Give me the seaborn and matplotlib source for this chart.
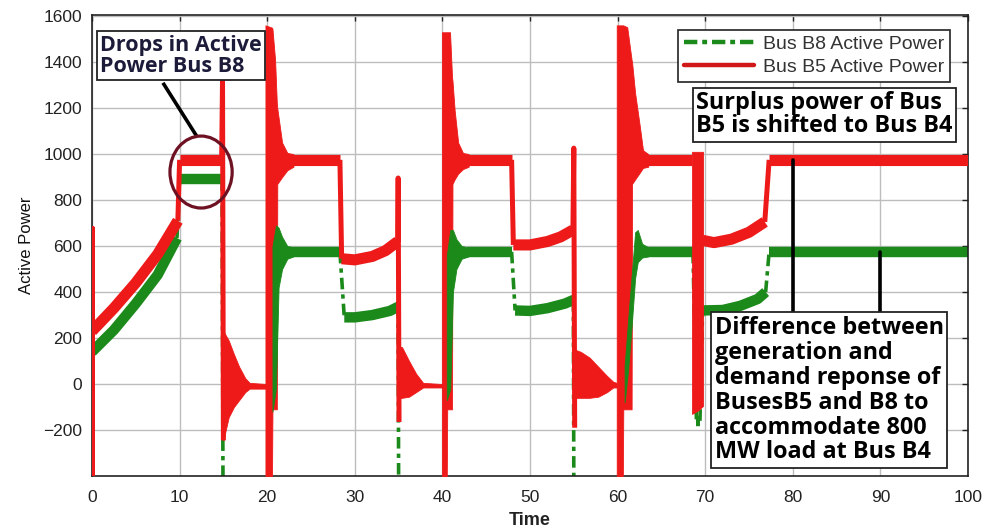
import numpy as np
import pandas as pd
import matplotlib
matplotlib.use("Agg")
import matplotlib.pyplot as plt
from matplotlib.patches import Ellipse
from matplotlib.lines import Line2D
import seaborn as sns

nan = np.nan

# ---- Bus B5 active power: settled trace (NaN separates pieces) ----
b5_t = [0, 0, 0, 2.5, 5, 7.5, 9.8, 10.0, 14.8, 14.9, 15.0, nan,
        22.5, 28.3, 28.5, 30, 32, 33.5, 34.9, 34.95, 35.05, nan,
        42.5, 47.9, 48.1, 50, 52, 53.5, 54.9, 55.0, 55.1, nan,
        63.0, 68.5, nan,
        69.7, 71, 73, 75, 76.8, 77.3, 100]
b5_p = [-400, 680, 230, 330, 440, 565, 710, 975, 975, 1320, -245, nan,
        975, 975, 545, 540, 555, 580, 620, 896, -165, nan,
        975, 975, 605, 605, 620, 640, 670, 1026, -190, nan,
        975, 975, nan,
        625, 615, 630, 660, 705, 975, 975]

# ---- Bus B8 active power: settled trace ----
b8_t = [0, 2.5, 5, 7.5, 9.7, 10.0, 14.8, 14.85, 14.95, nan,
        22.5, 28.3, 28.8, 30, 32, 34, 34.9, 34.95, 35.0, nan,
        42.8, 47.9, 48.3, 50, 52, 54, 54.9, 54.95, 55.0, nan,
        63.2, 68.6, 69.0, 69.4, 69.7, 72, 74, 76, 76.9, 77.3, 100]
b8_p = [140, 235, 350, 475, 635, 890, 890, 890, -400, nan,
        575, 575, 290, 290, 300, 318, 335, 335, -400, nan,
        575, 575, 320, 318, 330, 350, 365, 365, -400, nan,
        575, 575, -160, -160, 320, 322, 340, 370, 400, 575, 575]

# ---- B5 oscillation envelopes after each switching event ----
b5_ev15_t = [15.0, 15.6, 16.2, 16.8, 17.5, 18.0, 20.0]
b5_ev15_hi = [230, 190, 130, 75, 25, 5, 0]
b5_ev15_lo = [-245, -145, -100, -70, -35, -20, -20]

b5_ev20_t = [19.8, 20.55, 20.6, 20.9, 21.1, 21.15, 21.7, 22.3, 23.0]
b5_ev20_hi = [1560, 1550, 1545, 1410, 1220, 1200, 1050, 1005, 1000]
b5_ev20_lo = [-400, -400, -110, -110, -110, 870, 900, 930, 945]

b5_ev35_t = [35.0, 35.4, 36.2, 37.0, 37.8, 40.0]
b5_ev35_hi = [165, 160, 100, 45, 5, 0]
b5_ev35_lo = [-60, -60, -55, -35, -15, -15]

b5_ev40_t = [39.95, 40.5, 40.55, 40.87, 41.1, 41.15, 41.4, 41.8, 42.35, 43.0]
b5_ev40_hi = [1530, 1530, 1530, 1530, 1335, 1320, 1190, 1050, 1005, 1000]
b5_ev40_lo = [-400, -400, -110, -110, -110, 870, 890, 915, 935, 945]

b5_ev55_t = [55.1, 55.8, 56.8, 57.8, 58.8, 59.5, 59.9]
b5_ev55_hi = [150, 140, 115, 75, 35, 10, 5]
b5_ev55_lo = [-60, -60, -60, -55, -35, -15, -15]

b5_ev60_t = [59.9, 60.6, 60.65, 61.1, 61.6, 61.65, 62.0, 62.55, 62.9, 63.5]
b5_ev60_hi = [1560, 1560, 1560, 1552, 1409, 1400, 1265, 1117, 1017, 1000]
b5_ev60_lo = [-400, -400, -110, -110, -110, 870, 890, 920, 940, 945]

b5_ev69_t = [68.5, 69.2, 69.75]
b5_ev69_hi = [1010, 1010, 1010]
b5_ev69_lo = [-130, -115, -95]

# ---- B8 oscillation envelopes ----
b8_ev20_t = [20.6, 21.0, 21.3, 21.7, 22.3, 23.0]
b8_ev20_hi = [600, 690, 680, 640, 600, 595]
b8_ev20_lo = [-120, -20, 420, 500, 545, 555]

b8_ev40_t = [40.5, 40.9, 41.2, 41.6, 42.2, 43.0]
b8_ev40_hi = [560, 670, 670, 630, 600, 595]
b8_ev40_lo = [-70, -20, 400, 500, 545, 555]

b8_ev60_t = [60.8, 61.2, 61.6, 62.0, 62.3, 62.8, 63.5]
b8_ev60_hi = [80, 280, 470, 660, 670, 610, 595]
b8_ev60_lo = [-80, 60, 250, 460, 530, 550, 555]

x_ticks = [0, 10, 20, 30, 40, 50, 60, 70, 80, 90, 100]
y_ticks = [-200, 0, 200, 400, 600, 800, 1000, 1200, 1400, 1600]

RED = "#ee1a1a"
GREEN = "#1b8a1b"


def split_runs(t, p, steep=200.0):
    """Split a NaN-separated trace into runs of 'band' (settled) and 'jump'
    (switching transition) segments."""
    rows = []
    run = 0
    t = np.asarray(t, float)
    p = np.asarray(p, float)
    prev_kind = None
    for i in range(len(t) - 1):
        if np.isnan(t[i]) or np.isnan(t[i + 1]):
            prev_kind = None
            run += 1
            continue
        dt = t[i + 1] - t[i]
        dp = p[i + 1] - p[i]
        kind = "jump" if (dt == 0 or abs(dp / dt) > steep) else "band"
        if kind != prev_kind:
            run += 1
            rows.append((run, kind, t[i], p[i]))
        rows.append((run, kind, t[i + 1], p[i + 1]))
        prev_kind = kind
    return pd.DataFrame(rows, columns=["run", "kind", "t", "p"])


sns.set_theme(style="whitegrid")
plt.rcParams["font.family"] = ["Liberation Sans", "DejaVu Sans"]

fig = plt.figure(figsize=(9.89, 5.32), dpi=100)
ax = fig.add_axes([92 / 989, 1 - 476 / 532, 876 / 989, 461 / 532])
ax.set_facecolor("white")

b8 = split_runs(b8_t, b8_p)
b5 = split_runs(b5_t, b5_p)

# Bus B8 (green): settled bands solid and thick, transitions dash-dot
sns.lineplot(data=b8[b8.kind == "band"], x="t", y="p", units="run",
             estimator=None, sort=False, color=GREEN, linewidth=7.5,
             solid_capstyle="butt", legend=False, ax=ax, zorder=2)
sns.lineplot(data=b8[b8.kind == "jump"], x="t", y="p", units="run",
             estimator=None, sort=False, color=GREEN, linewidth=2.6,
             linestyle=(0, (3.2, 1.4, 1.2, 1.4)), legend=False, ax=ax,
             zorder=2)

# Bus B5 (red)
sns.lineplot(data=b5[b5.kind == "band"], x="t", y="p", units="run",
             estimator=None, sort=False, color=RED, linewidth=8,
             solid_capstyle="butt", legend=False, ax=ax, zorder=3)
sns.lineplot(data=b5[b5.kind == "jump"], x="t", y="p", units="run",
             estimator=None, sort=False, color=RED, linewidth=3.6,
             solid_capstyle="butt", legend=False, ax=ax, zorder=3)

for et, hi, lo in [(b5_ev15_t, b5_ev15_hi, b5_ev15_lo),
                   (b5_ev20_t, b5_ev20_hi, b5_ev20_lo),
                   (b5_ev35_t, b5_ev35_hi, b5_ev35_lo),
                   (b5_ev40_t, b5_ev40_hi, b5_ev40_lo),
                   (b5_ev55_t, b5_ev55_hi, b5_ev55_lo),
                   (b5_ev60_t, b5_ev60_hi, b5_ev60_lo),
                   (b5_ev69_t, b5_ev69_hi, b5_ev69_lo)]:
    ax.fill_between(et, lo, hi, color=RED, linewidth=0.6, edgecolor=RED,
                    zorder=3)

for et, hi, lo in [(b8_ev20_t, b8_ev20_hi, b8_ev20_lo),
                   (b8_ev40_t, b8_ev40_hi, b8_ev40_lo),
                   (b8_ev60_t, b8_ev60_hi, b8_ev60_lo)]:
    ax.fill_between(et, lo, hi, color=GREEN, linewidth=0.6,
                    edgecolor=GREEN, zorder=4)

# Axes, grid and ticks
ax.set_xlim(0, 100)
ax.set_ylim(-400, 1605)
ax.set_xticks(x_ticks)
ax.set_yticks(y_ticks)
ax.grid(True, color="#bdbdbd", linewidth=1.0)
ax.set_axisbelow(True)
for s in ax.spines.values():
    s.set_visible(True)
    s.set_color("#222222")
    s.set_linewidth(1.2)
ax.tick_params(direction="in", length=4, width=1, colors="#222222",
               top=True, right=True, labelsize=12.5)
ax.tick_params(axis="x", pad=10)
ax.tick_params(axis="y", pad=7)
ax.set_xlabel("Time", fontsize=13, fontweight="bold", color="#222222",
              labelpad=5)
ax.set_ylabel("Active Power", fontsize=12, color="#111111", labelpad=7)

# Legend
handles = [Line2D([], [], color=GREEN, lw=3.2, ls=(0, (3.0, 1.1, 1.1, 1.1))),
           Line2D([], [], color="#d01818", lw=3.2)]
leg = ax.legend(handles, ["Bus B8 Active Power", "Bus B5 Active Power"],
                loc="upper left", bbox_to_anchor=(0.669, 0.968),
                borderaxespad=0, fontsize=14, handlelength=3.6,
                handletextpad=0.45, labelspacing=0.25, borderpad=0.3,
                fancybox=False, framealpha=1, facecolor="white",
                edgecolor="#222222")
leg.get_frame().set_linewidth(1.2)
for txt in leg.get_texts():
    txt.set_color("#333333")
leg.set_zorder(8)

# Annotations
box = dict(boxstyle="square,pad=0.15", facecolor="white",
           edgecolor="#222222", linewidth=1.3)
note_font = ["Open Sans", "DejaVu Sans"]
ax.text(0.95, 1520, "Drops in Active\nPower Bus B8", fontsize=15.5,
        fontweight="bold", family=note_font, color="#1c1c3a",
        ha="left", va="top", linespacing=1.0, bbox=box, zorder=7)
ax.plot([8.1, 12.0], [1310, 1075], color="black", lw=2.6, zorder=6,
        solid_capstyle="butt")
ax.add_patch(Ellipse((12.45, 922), 7.1, 313, fill=False,
                     edgecolor="#6e1123", lw=2.3, zorder=6))

ax.text(69.0, 1274, "Surplus power of Bus\nB5 is shifted to Bus B4",
        fontsize=16.8, fontweight="bold", family=note_font, color="black",
        ha="left", va="top", linespacing=0.95, bbox=box, zorder=7)

ax.plot([80, 80], [975, 309], color="black", lw=2.6, zorder=6)
ax.plot([90, 90], [575, 309], color="black", lw=2.6, zorder=6)
ax.text(71.1, 296,
        "Difference between\ngeneration and\ndemand reponse of\n"
        "BusesB5 and B8 to\naccommodate 800\nMW load at Bus B4",
        fontsize=16.8, fontweight="bold", family=note_font, color="black",
        ha="left", va="top", linespacing=1.05, bbox=box, zorder=7)

fig.savefig("out.png", dpi=100, facecolor="white")
